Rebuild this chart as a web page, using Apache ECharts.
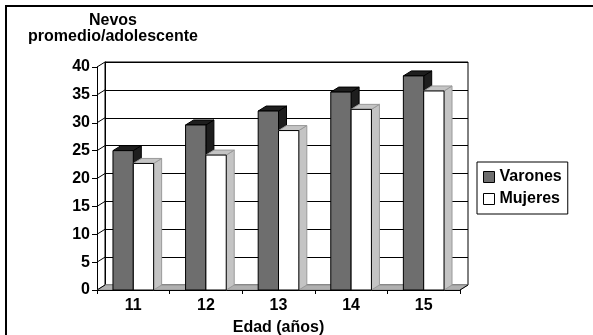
<!DOCTYPE html>
<html>
<head>
<meta charset="utf-8">
<script src="https://cdn.jsdelivr.net/npm/echarts@6/dist/echarts.min.js"></script>
<style>
  html, body { margin: 0; padding: 0; background: #fff; }
  #wrap { position: relative; width: 593px; height: 335px; overflow: hidden; }
  #chart { width: 593px; height: 335px; }
  #frame { position: absolute; left: 5px; top: 5px; width: 600px; height: 400px;
           border-left: 2px solid #000; border-top: 2px solid #000; pointer-events: none; }
</style>
</head>
<body>
<div id="wrap">
  <div id="chart"></div>
  <div id="frame"></div>
</div>
<script>
// datos
const categories = ['11', '12', '13', '14', '15'];
const varones = [25.0, 29.6, 32.1, 35.5, 38.4];
const mujeres = [22.7, 24.2, 28.6, 32.4, 35.7];
const yTicks = [0, 5, 10, 15, 20, 25, 30, 35, 40];

// profundidad 3D (px)
const DX = 8;
const DY = -5;
const FONT = "'Liberation Sans', Arial, sans-serif";

const chart = echarts.init(document.getElementById('chart'));

// barra con cara frontal, techo y lateral
function barRenderer(slot, face, shade, shadeStroke) {
    return function (params, api) {
        const idx = api.value(0);
        const top = api.coord([idx, api.value(1)]);
        const base = api.coord([idx, 0]);
        const band = api.size([1, 0])[0];
        const w = band * 0.28;
        const x0 = top[0] + (slot === 0 ? -w : 0);
        const x1 = x0 + w;
        const yt = top[1];
        const yb = base[1];
        return {
            type: 'group',
            children: [
                {
                    type: 'polygon',
                    shape: { points: [[x1, yt], [x1 + DX, yt + DY], [x1 + DX, yb + DY], [x1, yb]] },
                    style: { fill: shade, stroke: shadeStroke, lineWidth: 1 }
                },
                {
                    type: 'polygon',
                    shape: { points: [[x0, yt], [x1, yt], [x1 + DX, yt + DY], [x0 + DX, yt + DY]] },
                    style: { fill: shade, stroke: shadeStroke, lineWidth: 1 }
                },
                {
                    type: 'rect',
                    shape: { x: x0, y: yt, width: w, height: yb - yt },
                    style: { fill: face, stroke: '#000', lineWidth: 1 }
                }
            ]
        };
    };
}

const option = {
    backgroundColor: '#fff',
    animation: false,
    title: {
        text: 'Nevos\npromedio/adolescente',
        left: 113,
        top: 13,
        padding: 0,
        textAlign: 'center',
        textStyle: { fontFamily: FONT, fontSize: 16, fontWeight: 'bold', color: '#000', lineHeight: 16 }
    },
    legend: {
        orient: 'vertical',
        left: 477,
        top: 162,
        padding: [7, 6, 7, 6],
        itemGap: 6,
        itemWidth: 11,
        itemHeight: 11,
        borderColor: '#000',
        borderWidth: 1,
        backgroundColor: '#fff',
        textStyle: { fontFamily: FONT, fontSize: 16, fontWeight: 'bold', color: '#000' },
        data: [
            { name: 'Varones', icon: 'rect', itemStyle: { color: '#6e6e6e', borderColor: '#000', borderWidth: 1 } },
            { name: 'Mujeres', icon: 'rect', itemStyle: { color: '#fff', borderColor: '#000', borderWidth: 1 } }
        ]
    },
    grid: [
        // frente
        { left: 97, top: 67, width: 363, height: 223, outerBoundsMode: 'none', containLabel: false },
        // pared del fondo
        { left: 97 + DX, top: 67 + DY, width: 363, height: 223, show: true,
          outerBoundsMode: 'none', containLabel: false,
          backgroundColor: '#fff', borderColor: '#000', borderWidth: 1 }
    ],
    xAxis: [
        {
            gridIndex: 0,
            type: 'category',
            data: categories,
            name: 'Edad (años)',
            nameLocation: 'middle',
            nameGap: 30,
            nameTextStyle: { fontFamily: FONT, fontSize: 16, fontWeight: 'bold', color: '#000' },
            axisLine: { show: true, lineStyle: { color: '#000', width: 1 } },
            axisTick: { show: true, length: 4, lineStyle: { color: '#000' } },
            axisLabel: { margin: 8, fontFamily: FONT, fontSize: 16, fontWeight: 'bold', color: '#000' },
            splitLine: { show: false },
            z: 1
        },
        {
            gridIndex: 1,
            type: 'category',
            data: categories,
            show: false
        }
    ],
    yAxis: [
        {
            gridIndex: 0,
            type: 'value',
            min: 0,
            max: 40,
            interval: 5,
            axisLine: { show: true, lineStyle: { color: '#000', width: 1 } },
            axisTick: { show: true, length: 5, lineStyle: { color: '#000' } },
            axisLabel: { margin: 7, fontFamily: FONT, fontSize: 16, fontWeight: 'bold', color: '#000' },
            splitLine: { show: false }
        },
        {
            gridIndex: 1,
            type: 'value',
            min: 0,
            max: 40,
            interval: 5,
            axisLine: { show: true, lineStyle: { color: '#000' } },
            axisTick: { show: false },
            axisLabel: { show: false },
            splitLine: { show: true, lineStyle: { color: '#000', width: 1 } }
        }
    ],
    series: [
        {
            // piso gris
            name: 'piso',
            type: 'custom',
            xAxisIndex: 0,
            yAxisIndex: 0,
            silent: true,
            z: 1,
            data: [[0, 0]],
            renderItem: function (params, api) {
                const cs = params.coordSys;
                const y0 = api.coord([0, 0])[1];
                const xl = cs.x, xr = cs.x + cs.width;
                return {
                    type: 'group',
                    children: [
                        {
                            type: 'polygon',
                            shape: { points: [[xl, y0], [xr, y0], [xr + DX, y0 + DY], [xl + DX, y0 + DY]] },
                            style: { fill: '#b0b0b0', stroke: '#909090', lineWidth: 1 }
                        },
                        {
                            type: 'line',
                            shape: { x1: xr, y1: y0, x2: xr + DX, y2: y0 + DY },
                            style: { stroke: '#000', lineWidth: 1 }
                        }
                    ]
                };
            }
        },
        {
            // lineas de la pared lateral
            name: 'lateral',
            type: 'custom',
            xAxisIndex: 0,
            yAxisIndex: 0,
            silent: true,
            z: 1,
            data: yTicks.map(function (v) { return [0, v]; }),
            renderItem: function (params, api) {
                const cs = params.coordSys;
                const y = api.coord([0, api.value(1)])[1];
                return {
                    type: 'line',
                    shape: { x1: cs.x, y1: y, x2: cs.x + DX, y2: y + DY },
                    style: { stroke: '#000', lineWidth: 1 }
                };
            }
        },
        {
            name: 'Varones',
            type: 'custom',
            xAxisIndex: 0,
            yAxisIndex: 0,
            z: 3,
            itemStyle: { color: '#6e6e6e', borderColor: '#000' },
            data: varones.map(function (v, i) { return [i, v]; }),
            encode: { x: 0, y: 1 },
            renderItem: barRenderer(0, '#6e6e6e', '#1e1e1e', '#000')
        },
        {
            name: 'Mujeres',
            type: 'custom',
            xAxisIndex: 0,
            yAxisIndex: 0,
            z: 4,
            itemStyle: { color: '#fff', borderColor: '#000' },
            data: mujeres.map(function (v, i) { return [i, v]; }),
            encode: { x: 0, y: 1 },
            renderItem: barRenderer(1, '#fff', '#c4c4c4', '#9a9a9a')
        }
    ]
};

chart.setOption(option);
</script>
</body>
</html>
